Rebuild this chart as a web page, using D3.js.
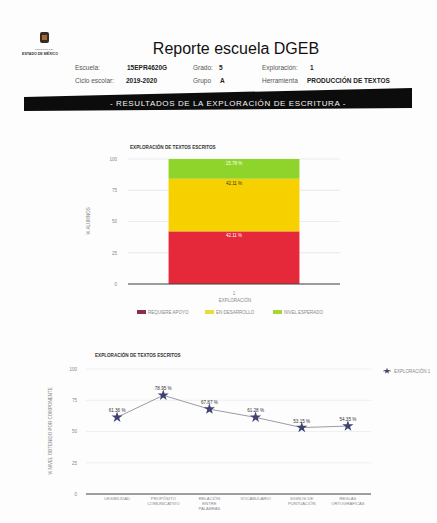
<!DOCTYPE html>
<html>
<head>
<meta charset="utf-8">
<script src="https://cdn.jsdelivr.net/npm/d3@7"></script>
<style>
  html, body { margin: 0; padding: 0; background: #fdfdfd; }
  svg text { font-family: "Liberation Sans", Arial, sans-serif; }
</style>
</head>
<body>
<div id="page"></div>
<script>
// ---- datos ----
var nivelCats = ["REQUIERE APOYO", "EN DESARROLLO", "NIVEL ESPERADO"];
var nivelVals = [42.11, 42.11, 15.78];
var nivelColors = ["#e5283a", "#f7d000", "#8fd42a"];
var legendColors = ["#8a2e45", "#e8dc3a", "#a8d43a"];
var exploraciones = ["1"];
var yTicks = [0, 25, 50, 75, 100];

var componentes = [
  ["LEGIBILIDAD"],
  ["PROPÓSITO", "COMUNICATIVO"],
  ["RELACIÓN", "ENTRE", "PALABRAS"],
  ["VOCABULARIO"],
  ["SIGNOS DE", "PUNTUACIÓN"],
  ["REGLAS", "ORTOGRÁFICAS"]
];
var compVals = [61.36, 78.95, 67.87, 61.28, 53.15, 54.35];

var W = 437, H = 523;
var svg = d3.select("#page").append("svg")
  .attr("width", W).attr("height", H);

// ---- encabezado ----
var head = svg.append("g");
// escudo
head.append("rect").attr("x", 40).attr("y", 32).attr("width", 9).attr("height", 11)
  .attr("rx", 2).attr("fill", "#3a2a20");
head.append("rect").attr("x", 42).attr("y", 35).attr("width", 5).attr("height", 5)
  .attr("fill", "#a06a3a");
head.append("text").attr("x", 44).attr("y", 50).attr("text-anchor", "middle")
  .attr("font-size", 2.5).attr("fill", "#777").text("GOBIERNO DEL");
head.append("text").attr("x", 40).attr("y", 55).attr("text-anchor", "middle")
  .attr("font-size", 3.6).attr("font-weight", "bold").attr("fill", "#333").text("ESTADO DE MÉXICO");

head.append("text").attr("x", 236).attr("y", 54).attr("text-anchor", "middle")
  .attr("font-size", 16).attr("fill", "#111").text("Reporte escuela DGEB");

var info = [
  [75, 70, "Escuela:", false], [127, 70, "15EPR4620G", true],
  [193, 70, "Grado:", false], [219, 70, "5", true],
  [262, 70, "Exploración:", false], [310, 70, "1", true],
  [75, 83, "Ciclo escolar:", false], [126, 83, "2019-2020", true],
  [193, 83, "Grupo", false], [220, 83, "A", true],
  [262, 83, "Herramienta", false], [307, 83, "PRODUCCIÓN DE TEXTOS", true]
];
head.selectAll("text.info").data(info).enter().append("text")
  .attr("class", "info")
  .attr("x", function(d){ return d[0]; })
  .attr("y", function(d){ return d[1]; })
  .attr("font-size", 6.5)
  .attr("font-weight", function(d){ return d[3] ? "bold" : "normal"; })
  .attr("fill", function(d){ return d[3] ? "#222" : "#555"; })
  .text(function(d){ return d[2]; });

head.append("polygon")
  .attr("points", "24,97 412,88 412,108 24,111")
  .attr("fill", "#0c0c0c");
head.append("text").attr("x", 228).attr("y", 106).attr("text-anchor", "middle")
  .attr("font-size", 8).attr("letter-spacing", 0.6).attr("fill", "#f4f4f4")
  .text("- RESULTADOS DE LA EXPLORACIÓN DE ESCRITURA -");

// ---- grafica de barras apiladas ----
var b = { left: 128, right: 340, top: 159, bottom: 284 };
var bg = svg.append("g");
bg.append("text").attr("x", 130).attr("y", 149).attr("font-size", 4.6)
  .attr("font-weight", "bold").attr("fill", "#333").text("EXPLORACIÓN DE TEXTOS ESCRITOS");

var by = d3.scaleLinear().domain([0, 100]).range([b.bottom, b.top]);
var bx = d3.scaleBand().domain(exploraciones).range([b.left, b.right])
  .paddingInner(0).paddingOuter(0.31);

bg.selectAll("line.grid").data(yTicks).enter().append("line")
  .attr("x1", b.left).attr("x2", b.right)
  .attr("y1", function(d){ return by(d); }).attr("y2", function(d){ return by(d); })
  .attr("stroke", "#e6e6e6").attr("stroke-width", 0.8);

var yAxisB = bg.append("g").attr("transform", "translate(" + (b.left - 8) + ",0)")
  .call(d3.axisLeft(by).tickValues(yTicks).tickSize(0));
yAxisB.select(".domain").remove();
yAxisB.selectAll("text").attr("font-size", 4.5).attr("fill", "#888");

var stack = [];
var acc = 0;
nivelVals.forEach(function(v, i){ stack.push({ y0: acc, y1: acc + v, v: v, i: i }); acc += v; });

bg.selectAll("rect.seg").data(stack).enter().append("rect")
  .attr("x", bx("1")).attr("width", bx.bandwidth())
  .attr("y", function(d){ return by(d.y1); })
  .attr("height", function(d){ return by(d.y0) - by(d.y1); })
  .attr("fill", function(d){ return nivelColors[d.i]; });

bg.selectAll("text.seg").data(stack).enter().append("text")
  .attr("x", bx("1") + bx.bandwidth() / 2)
  .attr("y", function(d){ return by(d.y1) + 6; })
  .attr("text-anchor", "middle").attr("font-size", 4.5)
  .attr("fill", function(d){ return d.i === 1 ? "#333" : "#fff"; })
  .text(function(d){ return d.v.toFixed(2) + " %"; });

bg.append("line").attr("x1", b.left).attr("x2", b.right)
  .attr("y1", b.bottom).attr("y2", b.bottom).attr("stroke", "#444").attr("stroke-width", 1);

var xAxisB = bg.append("g").attr("transform", "translate(0," + (b.bottom + 5) + ")")
  .call(d3.axisBottom(bx).tickSize(0));
xAxisB.select(".domain").remove();
xAxisB.selectAll("text").attr("font-size", 4.5).attr("fill", "#888");

bg.append("text").attr("x", 235).attr("y", 302).attr("text-anchor", "middle")
  .attr("font-size", 4.5).attr("fill", "#888").text("EXPLORACIÓN");
bg.append("text").attr("transform", "translate(90,221) rotate(-90)")
  .attr("text-anchor", "middle").attr("font-size", 4.5).attr("fill", "#888").text("% ALUMNOS");

var legX = d3.scalePoint().domain(nivelCats).range([137, 273]);
var leg = bg.selectAll("g.leg").data(nivelCats).enter().append("g")
  .attr("transform", function(d){ return "translate(" + legX(d) + ",310)"; });
leg.append("rect").attr("width", 9).attr("height", 4)
  .attr("fill", function(d, i){ return legendColors[i]; });
leg.append("text").attr("x", 11).attr("y", 4).attr("font-size", 4.5).attr("fill", "#888")
  .text(function(d){ return d; });

// ---- grafica de lineas ----
var l = { left: 94, right: 371, top: 369, bottom: 494 };
var lg = svg.append("g");
lg.append("text").attr("x", 95).attr("y", 357).attr("font-size", 4.6)
  .attr("font-weight", "bold").attr("fill", "#333").text("EXPLORACIÓN DE TEXTOS ESCRITOS");

var ly = d3.scaleLinear().domain([0, 100]).range([l.bottom, l.top]);
var lx = d3.scaleBand().domain(d3.range(componentes.length)).range([l.left, l.right]);

lg.selectAll("line.grid").data(yTicks).enter().append("line")
  .attr("x1", 86).attr("x2", l.right)
  .attr("y1", function(d){ return ly(d); }).attr("y2", function(d){ return ly(d); })
  .attr("stroke", "#ececec").attr("stroke-width", 0.8);

var yAxisL = lg.append("g").attr("transform", "translate(80,0)")
  .call(d3.axisLeft(ly).tickValues(yTicks).tickSize(0));
yAxisL.select(".domain").remove();
yAxisL.selectAll("text").attr("font-size", 4.5).attr("fill", "#888");

lg.append("line").attr("x1", 86).attr("x2", l.right)
  .attr("y1", l.bottom).attr("y2", l.bottom).attr("stroke", "#444").attr("stroke-width", 1);

lg.append("text").attr("transform", "translate(52,431) rotate(-90)")
  .attr("text-anchor", "middle").attr("font-size", 4.5).attr("fill", "#888")
  .text("% NIVEL OBTENIDO POR COMPONENTE");

var pts = compVals.map(function(v, i){ return { i: i, v: v }; });
var cx = function(d){ return lx(d.i) + lx.bandwidth() / 2; };

lg.append("path").datum(pts)
  .attr("fill", "none").attr("stroke", "#9a9aa6").attr("stroke-width", 1)
  .attr("d", d3.line().x(cx).y(function(d){ return ly(d.v); }));

var star = d3.symbol().type(d3.symbolStar).size(38);
lg.selectAll("path.pt").data(pts).enter().append("path")
  .attr("d", star)
  .attr("transform", function(d){ return "translate(" + cx(d) + "," + ly(d.v) + ")"; })
  .attr("fill", "#3d4270");

lg.selectAll("text.val").data(pts).enter().append("text")
  .attr("x", cx).attr("y", function(d){ return ly(d.v) - 5; })
  .attr("text-anchor", "middle").attr("font-size", 4.6).attr("fill", "#333")
  .text(function(d){ return d.v.toFixed(2) + " %"; });

lg.selectAll("g.xl").data(componentes).enter().append("text")
  .attr("text-anchor", "middle").attr("font-size", 4.2).attr("fill", "#888")
  .attr("transform", function(d, i){ return "translate(" + (lx(i) + lx.bandwidth() / 2) + "," + (l.bottom + 6) + ")"; })
  .selectAll("tspan").data(function(d){ return d; }).enter().append("tspan")
  .attr("x", 0).attr("dy", function(d, j){ return j === 0 ? 0 : 5; })
  .text(function(d){ return d; });

var ll = lg.append("g").attr("transform", "translate(383,371)");
ll.append("line").attr("x1", 0).attr("x2", 8).attr("stroke", "#9a9aa6");
ll.append("path").attr("d", d3.symbol().type(d3.symbolStar).size(14)).attr("transform", "translate(4,0)").attr("fill", "#3d4270");
ll.append("text").attr("x", 11).attr("y", 1.6).attr("font-size", 4.5).attr("fill", "#888").text("EXPLORACIÓN 1");
</script>
</body>
</html>
